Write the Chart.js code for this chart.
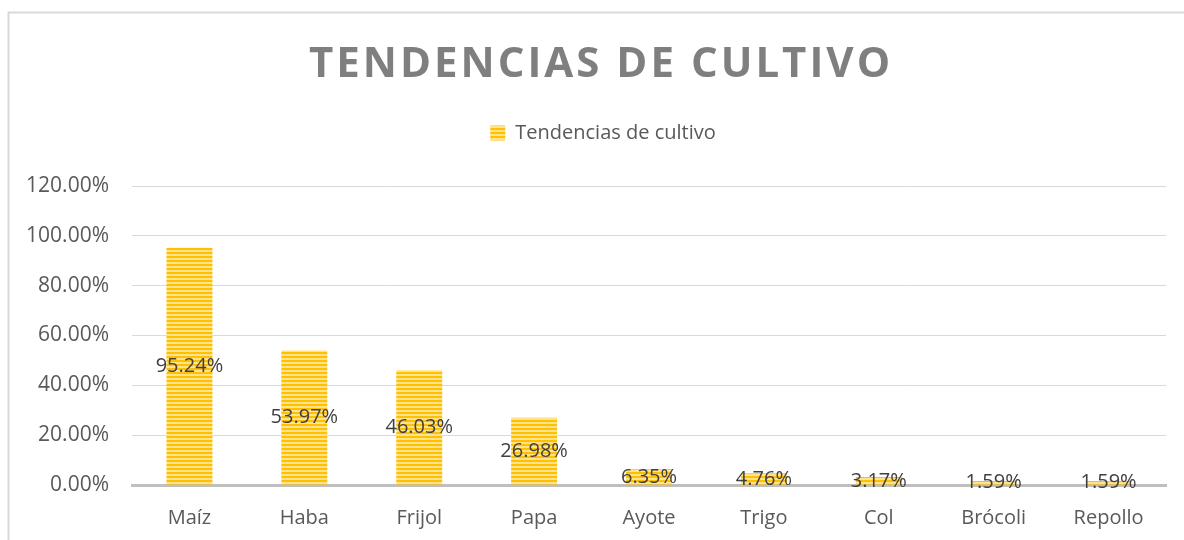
<!DOCTYPE html>
<html>
<head>
<meta charset="utf-8">
<script src="https://cdn.jsdelivr.net/npm/chart.js@4"></script>
<style>
  body { margin: 0; background: #fff; }
</style>
</head>
<body>
<canvas id="grafico" width="1184" height="540"></canvas>
<script>
const categorias = ["Maíz", "Haba", "Frijol", "Papa", "Ayote", "Trigo", "Col", "Brócoli", "Repollo"];
const valores = [95.24, 53.97, 46.03, 26.98, 6.35, 4.76, 3.17, 1.59, 1.59];
const tituloTexto = "TENDENCIAS DE CULTIVO";
const serieNombre = "Tendencias de cultivo";

const fuente = "'Open Sans', sans-serif";

// rayas horizontales de las barras
function crearRayas() {
  const c = document.createElement("canvas");
  c.width = 4;
  c.height = 4;
  const g = c.getContext("2d");
  g.fillStyle = "#FFC000";
  g.fillRect(0, 0, 4, 4);
  g.fillStyle = "#FFE38C";
  g.fillRect(0, 2, 4, 2);
  return g.createPattern(c, "repeat");
}
const rayas = crearRayas();

const marco = {
  id: "marco",
  beforeDraw(chart) {
    const ctx = chart.ctx;
    ctx.save();
    ctx.strokeStyle = "#d9d9d9";
    ctx.lineWidth = 2;
    ctx.strokeRect(8.5, 12.5, 2000, 2000);
    ctx.restore();
  },
  afterDraw(chart) {
    const ctx = chart.ctx;
    ctx.save();
    ctx.font = "bold 42px " + fuente;
    ctx.letterSpacing = "3px";
    ctx.fillStyle = "#7f7f7f";
    ctx.textAlign = "center";
    ctx.textBaseline = "alphabetic";
    ctx.fillText(tituloTexto, 601, 76.5);
    ctx.restore();
  },
};

// espacio extra bajo la leyenda y un poco a la derecha
const espacioLeyenda = {
  id: "espacioLeyenda",
  afterInit(chart) {
    const legend = chart.legend;
    const fit = legend.fit;
    legend.fit = function () {
      fit.call(this);
      this.height += 33;
    };
  },
  afterLayout(chart) {
    chart.legend.left += 15;
    chart.legend.right += 15;
  },
};

const etiquetas = {
  id: "etiquetas",
  afterDatasetsDraw(chart) {
    const ctx = chart.ctx;
    const meta = chart.getDatasetMeta(0);
    ctx.save();
    ctx.font = "20px " + fuente;
    ctx.fillStyle = "#404040";
    ctx.textAlign = "center";
    ctx.textBaseline = "middle";
    meta.data.forEach((bar, i) => {
      const y = (bar.y + bar.base) / 2;
      ctx.fillText(valores[i].toFixed(2) + "%", bar.x, y);
    });
    ctx.restore();
  },
};

const ctx = document.getElementById("grafico").getContext("2d");
const grafico = new Chart(ctx, {
  type: "bar",
  data: {
    labels: categorias,
    datasets: [
      {
        label: serieNombre,
        data: valores,
        backgroundColor: rayas,
        borderWidth: 0,
        barPercentage: 0.4,
        categoryPercentage: 1,
      },
    ],
  },
  options: {
    responsive: false,
    animation: false,
    layout: { padding: { top: 113, left: 10, right: 18, bottom: 0 } },
    plugins: {
      legend: {
        position: "top",
        labels: {
          color: "#595959",
          font: { family: fuente, size: 20 },
          boxWidth: 15,
          boxHeight: 15,
          padding: 10,
        },
      },
      title: { display: false },
      tooltip: { enabled: false },
    },
    scales: {
      x: {
        grid: { display: false },
        border: { display: true, color: "#bfbfbf", width: 3 },
        ticks: {
          color: "#595959",
          font: { family: fuente, size: 20 },
          padding: 13,
        },
        afterFit: (scale) => {
          scale.height = 55;
        },
      },
      y: {
        min: 0,
        max: 120,
        ticks: {
          stepSize: 20,
          color: "#595959",
          font: { family: fuente, size: 21 },
          padding: 23,
          callback: (v) => v.toFixed(2) + "%",
        },
        grid: { color: "#d9d9d9", lineWidth: 1, drawTicks: false },
        border: { display: false },
        afterFit: (scale) => {
          scale.width = 122;
        },
      },
    },
  },
  plugins: [marco, espacioLeyenda, etiquetas],
});
</script>
</body>
</html>
